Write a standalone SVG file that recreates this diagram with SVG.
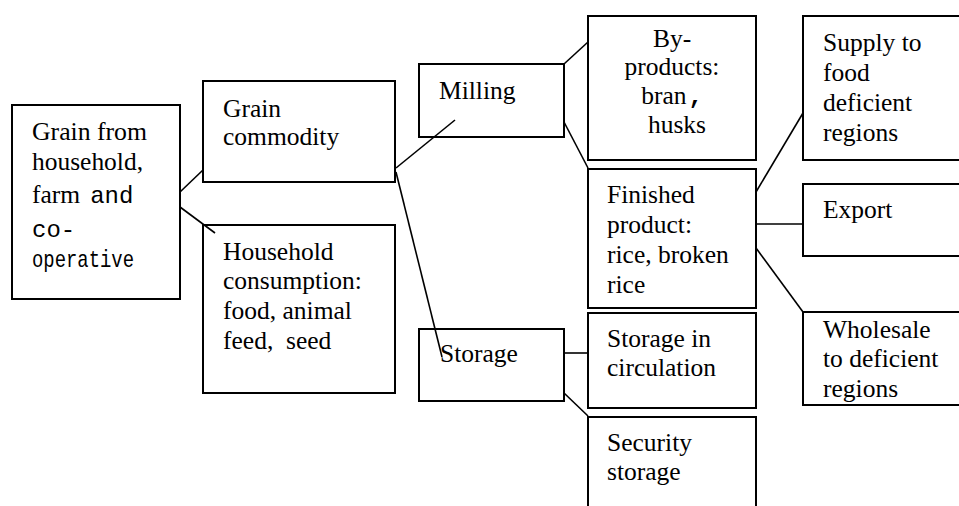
<svg xmlns="http://www.w3.org/2000/svg" width="959" height="506" viewBox="0 0 959 506">
<style>
.box{fill:#fff;stroke:#000;stroke-width:2}
.t{font-family:'Liberation Serif','Times New Roman',serif;font-size:25.5px;fill:#000}
.m{font-family:'Liberation Mono','Courier New',monospace;font-size:24px;fill:#000}
.c{stroke:#000;stroke-width:1.6;fill:none}
</style>
<rect width="959" height="506" fill="#fff"/>
<g id="n-source">
<rect class="box" x="12" y="105" width="168" height="194"/>
<text class="t" x="32" y="140" textLength="115" lengthAdjust="spacingAndGlyphs">Grain from</text>
<text class="t" x="32" y="170" textLength="111" lengthAdjust="spacingAndGlyphs">household,</text>
<text class="t" x="32" y="203">farm<tspan class="m" dx="10">and</tspan></text>
<text class="m" x="32" y="237">co-</text>
<text class="m" x="32" y="267" textLength="102" lengthAdjust="spacingAndGlyphs">operative</text>
</g>
<g id="n-commodity">
<rect class="box" x="203" y="81" width="192" height="101"/>
<text class="t" x="223" y="117">Grain</text>
<text class="t" x="223" y="145">commodity</text>
</g>
<g id="n-household">
<rect class="box" x="203" y="225" width="192" height="168"/>
<text class="t" x="223" y="260">Household</text>
<text class="t" x="223" y="289">consumption:</text>
<text class="t" x="223" y="319">food, animal</text>
<text class="t" x="223" y="349" xml:space="preserve">feed,  seed</text>
</g>
<g id="n-milling">
<rect class="box" x="419" y="64" width="145" height="73"/>
<text class="t" x="439" y="99">Milling</text>
</g>
<g id="n-storage">
<rect class="box" x="419" y="329" width="145" height="72"/>
<text class="t" x="440" y="362">Storage</text>
</g>
<g id="n-byproducts">
<rect class="box" x="588" y="16" width="168" height="144"/>
<text class="t" x="672" y="47" text-anchor="middle">By-</text>
<text class="t" x="672" y="75" text-anchor="middle">products:</text>
<text class="t" x="672" y="104" text-anchor="middle">bran<tspan class="m" font-weight="bold" dx="2">,</tspan></text>
<text class="t" x="677" y="133" text-anchor="middle">husks</text>
</g>
<g id="n-finished">
<rect class="box" x="588" y="169" width="168" height="139"/>
<text class="t" x="607" y="203">Finished</text>
<text class="t" x="607" y="233">product:</text>
<text class="t" x="607" y="263">rice, broken</text>
<text class="t" x="607" y="293">rice</text>
</g>
<g id="n-circulation">
<rect class="box" x="588" y="313" width="168" height="95"/>
<text class="t" x="607" y="347">Storage in</text>
<text class="t" x="607" y="376">circulation</text>
</g>
<g id="n-security">
<rect class="box" x="588" y="417" width="168" height="110"/>
<text class="t" x="607" y="451">Security</text>
<text class="t" x="607" y="480">storage</text>
</g>
<g id="n-supply">
<rect class="box" x="803" y="16" width="170" height="144"/>
<text class="t" x="823" y="51">Supply to</text>
<text class="t" x="823" y="81">food</text>
<text class="t" x="823" y="111">deficient</text>
<text class="t" x="823" y="141">regions</text>
</g>
<g id="n-export">
<rect class="box" x="803" y="184" width="170" height="72"/>
<text class="t" x="823" y="218">Export</text>
</g>
<g id="n-wholesale">
<rect class="box" x="803" y="312" width="170" height="93"/>
<text class="t" x="823" y="338">Wholesale</text>
<text class="t" x="823" y="367">to deficient</text>
<text class="t" x="823" y="397">regions</text>
</g>
<g id="connectors">
<line class="c" x1="180" y1="192" x2="203" y2="170"/>
<line class="c" x1="180" y1="207" x2="215" y2="233"/>
<line class="c" x1="396" y1="168" x2="455" y2="120"/>
<line class="c" x1="396" y1="172" x2="442" y2="357"/>
<line class="c" x1="564" y1="64" x2="588" y2="42"/>
<line class="c" x1="564" y1="122" x2="588" y2="168"/>
<line class="c" x1="564" y1="353" x2="588" y2="353"/>
<line class="c" x1="564" y1="393" x2="588" y2="416"/>
<line class="c" x1="756" y1="192" x2="803" y2="113"/>
<line class="c" x1="756" y1="224" x2="803" y2="224"/>
<line class="c" x1="756" y1="248" x2="803" y2="312"/>
</g>
</svg>
